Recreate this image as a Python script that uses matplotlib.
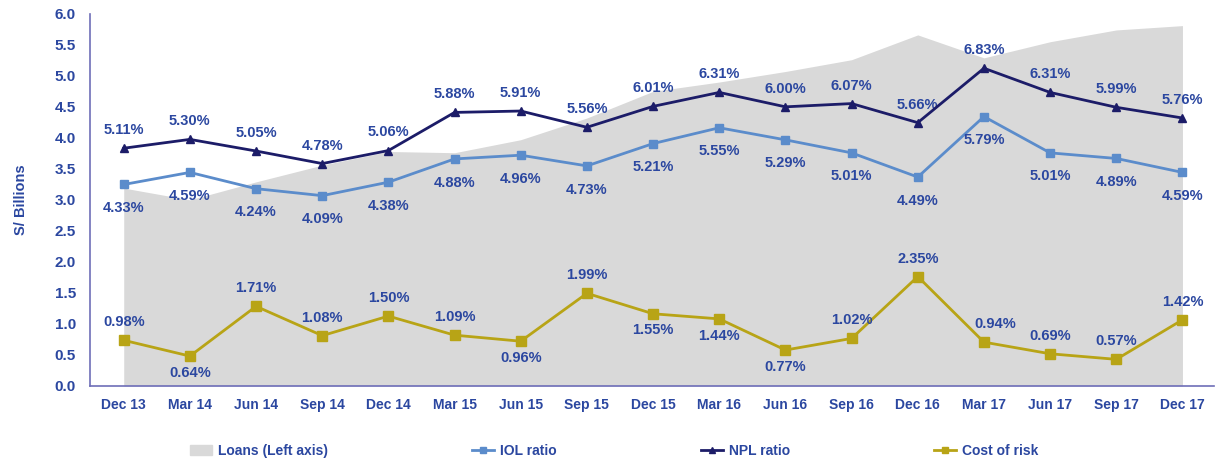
"""Loans vs. asset-quality ratios, Dec 13 - Dec 17 (quarterly)."""
import matplotlib
matplotlib.use("Agg")
import matplotlib.pyplot as plt
from matplotlib.patches import Patch
from matplotlib.lines import Line2D

QUARTERS = ["Dec 13", "Mar 14", "Jun 14", "Sep 14", "Dec 14", "Mar 15", "Jun 15",
            "Sep 15", "Dec 15", "Mar 16", "Jun 16", "Sep 16", "Dec 16", "Mar 17",
            "Jun 17", "Sep 17", "Dec 17"]
LOANS = [3.19, 3.00, 3.29, 3.56, 3.78, 3.76, 3.97, 4.32, 4.75, 4.90, 5.07,
         5.26, 5.66, 5.29, 5.55, 5.74, 5.81]          # S/ billions
IOL = [4.33, 4.59, 4.24, 4.09, 4.38, 4.88, 4.96, 4.73, 5.21, 5.55, 5.29,
       5.01, 4.49, 5.79, 5.01, 4.89, 4.59]           # %
NPL = [5.11, 5.30, 5.05, 4.78, 5.06, 5.88, 5.91, 5.56, 6.01, 6.31, 6.00,
       6.07, 5.66, 6.83, 6.31, 5.99, 5.76]           # %
COR = [0.98, 0.64, 1.71, 1.08, 1.50, 1.09, 0.96, 1.99, 1.55, 1.44, 0.77,
       1.02, 2.35, 0.94, 0.69, 0.57, 1.42]           # %
COR_ABOVE = [1, 0, 1, 1, 1, 1, 0, 1, 0, 0, 0, 1, 1, 1, 1, 1, 1]

C_AREA = "#D9D9D9"
C_IOL = "#5B8CCB"
C_NPL = "#1C1C68"
C_COR = "#B8A416"
C_TXT = "#2B47A0"
C_AX = "#6E6EB8"
FONT = ["Liberation Sans", "DejaVu Sans"]

plt.rcParams["font.family"] = FONT

fig = plt.figure(figsize=(12.16, 4.61), dpi=100)
ax = fig.add_axes([0.074, 0.163, 0.924, 0.807])
x = list(range(len(QUARTERS)))

ax.fill_between(x, 0, LOANS, color=C_AREA, lw=0, zorder=1)
ax.set_xlim(-0.51, 16.47)
ax.set_ylim(0, 6.0)
ax.set_yticks([i * 0.5 for i in range(13)])
ax.set_yticklabels([f"{i * 0.5:.1f}" for i in range(13)], fontsize=11,
                   fontweight="bold", color=C_TXT)
ax.set_xticks(x)
ax.set_xticklabels(QUARTERS, fontsize=10, fontweight="bold", color=C_TXT)
ax.tick_params(length=0, pad=9)
ax.tick_params(axis="y", pad=10)
for s in ["top", "right"]:
    ax.spines[s].set_visible(False)
for s in ["left", "bottom"]:
    ax.spines[s].set_color(C_AX)
    ax.spines[s].set_linewidth(1.2)
ax.set_ylabel("S/ Billions", fontsize=10.5, fontweight="bold", color=C_TXT, labelpad=19)

# ratios on a hidden secondary scale (0-8%)
ax2 = ax.twinx()
ax2.set_ylim(0, 8.0)
ax2.axis("off")
ax2.plot(x, IOL, color=C_IOL, lw=2, marker="s", ms=6, zorder=3)
ax2.plot(x, NPL, color=C_NPL, lw=2, marker="^", ms=6, zorder=4)
ax2.plot(x, COR, color=C_COR, lw=2, marker="s", ms=7, zorder=3)

lab = dict(fontsize=10.5, fontweight="bold", color=C_TXT, ha="center", va="center",
           textcoords="offset points")
for i in x:
    ax2.annotate(f"{NPL[i]:.2f}%", (i, NPL[i]), xytext=(0, 13), **lab)
    ax2.annotate(f"{IOL[i]:.2f}%", (i, IOL[i]), xytext=(0, -17), **lab)
    dy = 13 if COR_ABOVE[i] else -12
    dx = 8 if QUARTERS[i] == "Mar 17" else 0
    ax2.annotate(f"{COR[i]:.2f}%", (i, COR[i]), xytext=(dx, dy), **lab)

handles = [
    Patch(color=C_AREA, label="Loans (Left axis)"),
    Line2D([], [], color=C_IOL, lw=2, marker="s", ms=5, label="IOL ratio"),
    Line2D([], [], color=C_NPL, lw=2, marker="^", ms=5, label="NPL ratio"),
    Line2D([], [], color=C_COR, lw=2, marker="s", ms=5, label="Cost of risk"),
]
leg = fig.legend(handles=handles, loc="lower center", bbox_to_anchor=(0.505, -0.02),
                 ncol=4, frameon=False, columnspacing=10.4, handlelength=1.6,
                 handletextpad=0.4, prop={"weight": "bold", "size": 10})
for t in leg.get_texts():
    t.set_color(C_TXT)

fig.savefig("out.png", dpi=100)
